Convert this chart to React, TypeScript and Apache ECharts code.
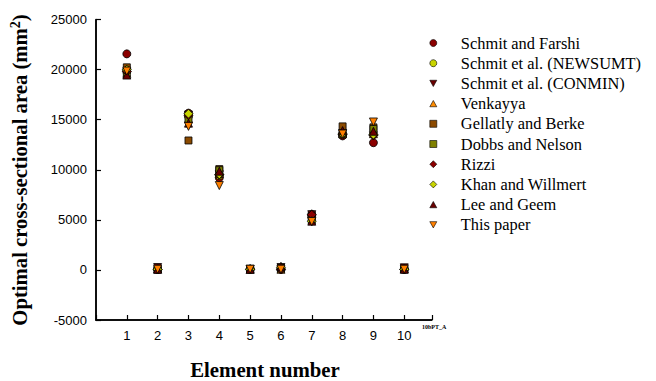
import React, { useEffect, useRef } from "react";
import * as echarts from "echarts";

const elements = [1, 2, 3, 4, 5, 6, 7, 8, 9, 10];
const yTicks = [-5000, 0, 5000, 10000, 15000, 20000, 25000];

const seriesNames = [
  "Schmit and Farshi",
  "Schmit et al. (NEWSUMT)",
  "Schmit et al. (CONMIN)",
  "Venkayya",
  "Gellatly and Berke",
  "Dobbs and Nelson",
  "Rizzi",
  "Khan and Willmert",
  "Lee and Geem",
  "This paper",
];

const schmitFarshi = [21568, 65, 15652, 9200, 65, 65, 5412, 13381, 12703, 65];
const newsumt = [19787, 65, 15329, 9413, 65, 65, 5534, 13593, 13523, 65];
const conmin = [19723, 238, 15465, 9503, 65, 235, 5514, 13619, 13400, 206];
const venkayya = [19626, 83, 15103, 9619, 65, 65, 5610, 13600, 13600, 120];
const gellatly = [20226, 65, 12923, 10065, 90, 155, 5387, 14329, 14232, 65];
const dobbs = [19677, 65, 15026, 9955, 65, 135, 4935, 13535, 14077, 65];
const rizzi = [19826, 65, 15441, 9505, 65, 65, 5511, 13519, 13443, 65];
const khan = [19987, 65, 15594, 9555, 65, 262, 4869, 13581, 13510, 65];
const leeGeem = [19452, 66, 14652, 9852, 66, 351, 4865, 13910, 13839, 65];
const thisPaper = [19850, 70, 14330, 8420, 70, 70, 4830, 13570, 14770, 70];

const allValues = [schmitFarshi, newsumt, conmin, venkayya, gellatly, dobbs, rizzi, khan, leeGeem, thisPaper];

const downTri = "path://M0,0L10,0L5,9Z";
const upTri = "path://M5,0L10,9L0,9Z";
const symbols = ["circle", "circle", downTri, upTri, "rect", "rect", "diamond", "diamond", upTri, downTri];
const colors = ["#8B0000", "#C8D400", "#6A0000", "#FF8C00", "#8B4A00", "#7F8000", "#8B0000", "#C8D400", "#6A0000", "#FF8000"];
const sizes = [8, 8, 8, 8, 7, 7, 9, 9, 8, 8];

const whiteSplit = { show: true, lineStyle: { color: "#ffffff", width: 1 } };

export default function App() {
  const ref = useRef<HTMLDivElement>(null);
  useEffect(() => {
    document.body.style.margin = "0";
    const chart = echarts.init(ref.current!, null, { renderer: "svg" });
    const series = seriesNames.map((name, s) => ({
      name,
      type: "scatter",
      symbol: symbols[s],
      symbolSize: sizes[s],
      itemStyle: { color: colors[s], borderColor: "#000", borderWidth: 0.8, opacity: 1 },
      data: allValues[s].map((v, i) => [elements[i], v]),
      z: 2 + s,
    }));
    chart.setOption({
      animation: false,
      grid: { left: 96, right: 224, top: 19.5, bottom: 61 },
      xAxis: {
        type: "value",
        min: 0,
        max: 10.9,
        interval: 1,
        axisLine: { show: true, onZero: false, lineStyle: { color: "#000", width: 1.5 } },
        axisTick: { show: true, inside: true, length: 5, lineStyle: { color: "#000", width: 1.2 } },
        axisLabel: {
          margin: 9,
          fontFamily: "Liberation Sans",
          fontSize: 13,
          color: "#000",
          formatter: (v: number) => (elements.includes(v) ? String(v) : ""),
        },
        splitLine: whiteSplit,
      },
      yAxis: {
        type: "value",
        min: yTicks[0],
        max: yTicks[yTicks.length - 1],
        interval: 5000,
        axisLine: { show: true, onZero: false, lineStyle: { color: "#000", width: 1.5 } },
        axisTick: { show: true, inside: true, length: 5, lineStyle: { color: "#000", width: 1.2 } },
        axisLabel: {
          margin: 9,
          fontFamily: "Liberation Sans",
          fontSize: 13,
          color: "#000",
          formatter: (v: number) => String(v),
        },
        splitLine: whiteSplit,
      },
      legend: {
        orient: "vertical",
        left: 424.5,
        top: 28,
        itemWidth: 7,
        itemHeight: 7,
        itemGap: 0.2,
        data: seriesNames.map((name, s) => ({
          name,
          icon: symbols[s],
          itemStyle: { color: colors[s], borderColor: "#000", borderWidth: 0.6 },
        })),
        textStyle: {
          fontFamily: "Liberation Serif",
          fontSize: 16.4,
          color: "#000",
          lineHeight: 20,
          padding: [0, 0, 0, 19],
        },
      },
      graphic: [
        {
          type: "polyline",
          z: 1,
          shape: { points: [[96, 19.5], [96, 320], [432, 320]] },
          style: { stroke: "#000", lineWidth: 1.5, fill: "none" },
          silent: true,
        },
        {
          type: "text",
          x: 20,
          y: 170,
          rotation: Math.PI / 2,
          style: {
            text: "Optimal cross-sectional area (mm{sup|2})",
            rich: {
              sup: { fontSize: 14, fontWeight: "bold", fontFamily: "Liberation Serif", verticalAlign: "top", padding: [0, 0, 9, 0] },
            },
            fontFamily: "Liberation Serif",
            fontWeight: "bold",
            fontSize: 20.7,
            fill: "#000",
            align: "center",
            verticalAlign: "middle",
          },
        },
        {
          type: "text",
          x: 265,
          y: 369,
          style: {
            text: "Element number",
            fontFamily: "Liberation Serif",
            fontWeight: "bold",
            fontSize: 20.8,
            fill: "#000",
            align: "center",
            verticalAlign: "middle",
          },
        },
        {
          type: "text",
          x: 422,
          y: 327,
          style: {
            text: "10bPT_A",
            fontFamily: "Liberation Serif",
            fontWeight: "bold",
            fontSize: 6,
            fill: "#000",
            align: "left",
            verticalAlign: "middle",
          },
        },
      ],
      series,
    });
    return () => chart.dispose();
  }, []);
  return <div ref={ref} style={{ width: 656, height: 381 }} />;
}
